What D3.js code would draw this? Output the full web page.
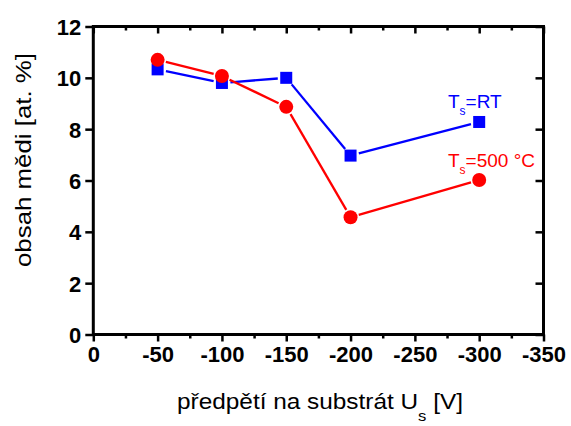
<!DOCTYPE html>
<html>
<head>
<meta charset="utf-8">
<script src="https://cdn.jsdelivr.net/npm/d3@7"></script>
<style>
  html, body { margin: 0; padding: 0; background: #fff; }
  svg { display: block; }
  text { font-family: "Liberation Sans", Arial, Helvetica, sans-serif; }
</style>
</head>
<body>
<svg id="chart" width="571" height="426"></svg>
<script>
// ---- data ----
const biasVoltages = [-50, -100, -150, -200, -300];
const copperRT = [10.33, 9.8, 10.0, 6.97, 8.28];
const copper500 = [10.7, 10.07, 8.87, 4.57, 6.02];
const xMajorTicks = [0, -50, -100, -150, -200, -250, -300, -350];
const xMinorTicks = [-25, -75, -125, -175, -225, -275, -325];
const yMajorTicks = [0, 2, 4, 6, 8, 10, 12];
const seriesLabels = ["RT", "500 °C"];

const svg = d3.select("#chart");
const L = 93.3, R = 543.5, T = 26.5, B = 334.5;
const x = d3.scaleLinear().domain([0, -350]).range([L, R]);
const y = d3.scaleLinear().domain([0, 12]).range([B, T]);

// frame
svg.append("rect").attr("x", L).attr("y", T).attr("width", R - L).attr("height", B - T)
  .attr("fill", "none").attr("stroke", "#000").attr("stroke-width", 3);

// axes with ticks
const fmt = d => String(d);
const bottomAxis = d3.axisBottom(x).tickValues(xMajorTicks).tickSize(7).tickFormat(fmt);
const gB = svg.append("g").attr("transform", `translate(0,${B})`).call(bottomAxis);
const topAxis = d3.axisTop(x).tickValues(xMajorTicks).tickSize(-7).tickFormat("");
const gT = svg.append("g").attr("transform", `translate(0,${T})`).call(topAxis);
const bottomMinor = d3.axisBottom(x).tickValues(xMinorTicks).tickSize(4).tickFormat("");
const gBm = svg.append("g").attr("transform", `translate(0,${B})`).call(bottomMinor);
const topMinor = d3.axisTop(x).tickValues(xMinorTicks).tickSize(-4).tickFormat("");
const gTm = svg.append("g").attr("transform", `translate(0,${T})`).call(topMinor);
const leftAxis = d3.axisLeft(y).tickValues(yMajorTicks).tickSize(8).tickPadding(4).tickFormat(fmt);
const gL = svg.append("g").attr("transform", `translate(${L},0)`).call(leftAxis);
const rightAxis = d3.axisRight(y).tickValues(yMajorTicks).tickSize(-8).tickFormat("");
const gR = svg.append("g").attr("transform", `translate(${R},0)`).call(rightAxis);

[gB, gT, gBm, gTm, gL, gR].forEach(g => {
  g.select(".domain").remove();
  g.selectAll(".tick line").attr("stroke", "#000").attr("stroke-width", 2.5);
});
gB.selectAll(".tick text")
  .attr("font-size", 22).attr("font-weight", "bold").attr("fill", "#000")
  .attr("font-family", "Liberation Sans, Arial, sans-serif")
  .attr("y", 12).attr("dy", "0.71em");
gL.selectAll(".tick text")
  .attr("font-size", 22).attr("font-weight", "bold").attr("fill", "#000")
  .attr("font-family", "Liberation Sans, Arial, sans-serif")
  .attr("dy", "0.36em");

// axis titles
svg.append("text")
  .attr("transform", `translate(31,${(53 + 267) / 2}) rotate(-90)`)
  .attr("text-anchor", "middle")
  .attr("font-size", 22)
  .attr("textLength", 214).attr("lengthAdjust", "spacingAndGlyphs")
  .text("obsah mědi [at. %]");

const xt = svg.append("text")
  .attr("x", 177).attr("y", 409)
  .attr("font-size", 22)
  .attr("textLength", 286).attr("lengthAdjust", "spacingAndGlyphs");
xt.append("tspan").text("předpětí na substrát U");
xt.append("tspan").attr("font-size", 15).attr("dy", 12).text("s");
xt.append("tspan").attr("dy", -12).text(" [V]");

// series
function drawSeries(vals, color, shape) {
  const pts = biasVoltages.map((v, i) => [x(v), y(vals[i])]);
  const g = svg.append("g");
  const gap = 8.5;
  for (let i = 0; i < pts.length - 1; i++) {
    const [x1, y1] = pts[i], [x2, y2] = pts[i + 1];
    const dx = x2 - x1, dy = y2 - y1, len = Math.hypot(dx, dy);
    const ux = dx / len, uy = dy / len;
    g.append("line")
      .attr("x1", x1 + ux * gap).attr("y1", y1 + uy * gap)
      .attr("x2", x2 - ux * gap).attr("y2", y2 - uy * gap)
      .attr("stroke", color).attr("stroke-width", 2.3);
  }
  if (shape === "square") {
    g.selectAll("rect").data(pts).join("rect")
      .attr("x", d => d[0] - 6).attr("y", d => d[1] - 6)
      .attr("width", 12).attr("height", 12).attr("fill", color);
  } else {
    g.selectAll("circle").data(pts).join("circle")
      .attr("cx", d => d[0]).attr("cy", d => d[1]).attr("r", 7).attr("fill", color);
  }
}
drawSeries(copperRT, "#0000ff", "square");
drawSeries(copper500, "#ff0000", "circle");

// in-plot labels
function label(txt, color, yy) {
  const t = svg.append("text").attr("x", 448).attr("y", yy).attr("font-size", 19).attr("fill", color);
  t.append("tspan").text("T");
  t.append("tspan").attr("font-size", 12).attr("dy", 7).text("s");
  t.append("tspan").attr("dy", -7).text("=" + txt);
}
label(seriesLabels[0], "#0000ff", 107.5);
label(seriesLabels[1], "#ff0000", 167);
</script>
</body>
</html>
